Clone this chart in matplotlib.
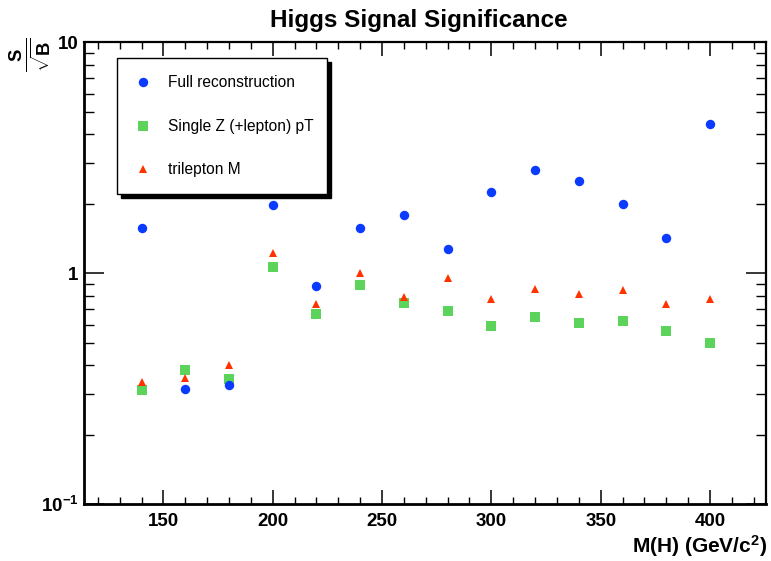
import matplotlib
matplotlib.use("Agg")
import matplotlib.pyplot as plt
from matplotlib.patches import Rectangle
from matplotlib.lines import Line2D
from matplotlib.ticker import LogLocator, NullFormatter, MultipleLocator, FixedLocator

# ---------------- data ----------------
mass = [140, 160, 180, 200, 220, 240, 260, 280, 300, 320, 340, 360, 380, 400]
full_reco = [1.57, 0.317, 0.328, 1.98, 0.881, 1.57, 1.79, 1.27, 2.26, 2.81, 2.52, 1.99, 1.42, 4.43]
single_z = [0.314, 0.381, 0.347, 1.065, 0.669, 0.887, 0.747, 0.685, 0.591, 0.645, 0.608, 0.622, 0.565, 0.499]
trilepton = [0.340, 0.352, 0.402, 1.23, 0.734, 1.007, 0.79, 0.958, 0.777, 0.859, 0.817, 0.850, 0.739, 0.777]
series_names = ["Full reconstruction", "Single Z (+lepton) pT", "trilepton M"]
ytick_vals = [0.1, 1, 10]
ytick_labels = [r"$10^{-1}$", "1", "10"]
xtick_vals = [150, 200, 250, 300, 350, 400]

# ---------------- style ----------------
plt.rcParams['font.family'] = ['Liberation Sans', 'DejaVu Sans']
plt.rcParams['mathtext.fontset'] = 'custom'
plt.rcParams['mathtext.rm'] = 'Liberation Sans:bold'
plt.rcParams['mathtext.bf'] = 'Liberation Sans:bold'
plt.rcParams['mathtext.it'] = 'Liberation Sans:bold:italic'
plt.rcParams['mathtext.sf'] = 'Liberation Sans:bold'
plt.rcParams['mathtext.default'] = 'rm'
plt.rcParams['axes.unicode_minus'] = False

W, H = 771, 561
fig = plt.figure(figsize=(W / 100, H / 100), dpi=100)

def fx(px):
    return px / W

def fy(py):
    return 1 - py / H

left, right, top, bottom = 84, 766, 42.3, 504.3
ax = fig.add_axes([fx(left), fy(bottom), fx(right) - fx(left), fy(top) - fy(bottom)])

c_blue = '#0b3bff'
c_green = '#5cd45c'
c_red = '#ff3300'

ax.plot(mass, full_reco, 'o', color=c_blue, ms=6.8, mew=0, zorder=3)
ax.plot(mass, single_z, 's', color=c_green, ms=7.2, mew=0, zorder=2)
ax.plot(mass, trilepton, '^', color=c_red, ms=6.2, mew=0, zorder=2.5)

ax.set_yscale('log')
ax.set_xlim(113.7, 425.6)
ax.set_ylim(0.1, 10)

ax.xaxis.set_major_locator(FixedLocator(xtick_vals))
ax.xaxis.set_minor_locator(MultipleLocator(10))
ax.set_xticklabels([str(v) for v in xtick_vals])
ax.yaxis.set_major_locator(FixedLocator(ytick_vals))
ax.set_yticklabels(ytick_labels)
ax.yaxis.set_minor_locator(LogLocator(base=10, subs=range(2, 10)))
ax.yaxis.set_minor_formatter(NullFormatter())

ax.tick_params(axis='both', which='both', direction='in', top=True, right=True, color='black')
ax.tick_params(axis='x', which='major', length=9.9, width=1.1, pad=6, labelsize=13.5)
ax.tick_params(axis='x', which='minor', length=5, width=1.0)
ax.tick_params(axis='y', which='major', length=14.4, width=1.1, pad=4, labelsize=13.5)
ax.tick_params(axis='y', which='minor', length=7.2, width=1.0)
for lab in ax.get_xticklabels() + ax.get_yticklabels():
    lab.set_fontweight('bold')

for side in ['left', 'bottom']:
    ax.spines[side].set_linewidth(2.0)
for side in ['top', 'right']:
    ax.spines[side].set_linewidth(1.6)

# title
fig.text(fx(419), fy(20), "Higgs Signal Significance", ha='center', va='center',
         fontsize=17.5, fontweight='bold')

# x label
fig.text(fx(767), fy(546), r"M(H) (GeV/c$^{2}$)", ha='right', va='center',
         fontsize=15, fontweight='bold')

# y label
fig.text(fx(30), fy(55), r"$\frac{S}{\sqrt{B}}$", ha='center', va='center',
         fontsize=19, rotation=90)

# legend (manual ROOT-style box with shadow)
bx0, bx1, by0, by1 = 116.7, 326.7, 58.3, 194.0
shadow = Rectangle((fx(bx0 + 4), fy(by1 + 4)), fx(bx1) - fx(bx0), fy(by0) - fy(by1),
                   transform=fig.transFigure, facecolor='black', edgecolor='black', zorder=10)
box = Rectangle((fx(bx0), fy(by1)), fx(bx1) - fx(bx0), fy(by0) - fy(by1),
                transform=fig.transFigure, facecolor='white', edgecolor='black', lw=1.0, zorder=11)
fig.add_artist(shadow)
fig.add_artist(box)
leg_rows = [82.3, 126.0, 169.3]
leg_styles = [('o', c_blue, 6.8), ('s', c_green, 7.2), ('^', c_red, 6.2)]
for name, yy, (mk, col, ms) in zip(series_names, leg_rows, leg_styles):
    fig.add_artist(Line2D([fx(142.7)], [fy(yy)], marker=mk, color=col, ms=ms, mew=0,
                          linestyle='none', transform=fig.transFigure, zorder=12))
    fig.text(fx(168), fy(yy), name, ha='left', va='center', fontsize=11.2, zorder=12)

fig.savefig('out.png', dpi=100)
